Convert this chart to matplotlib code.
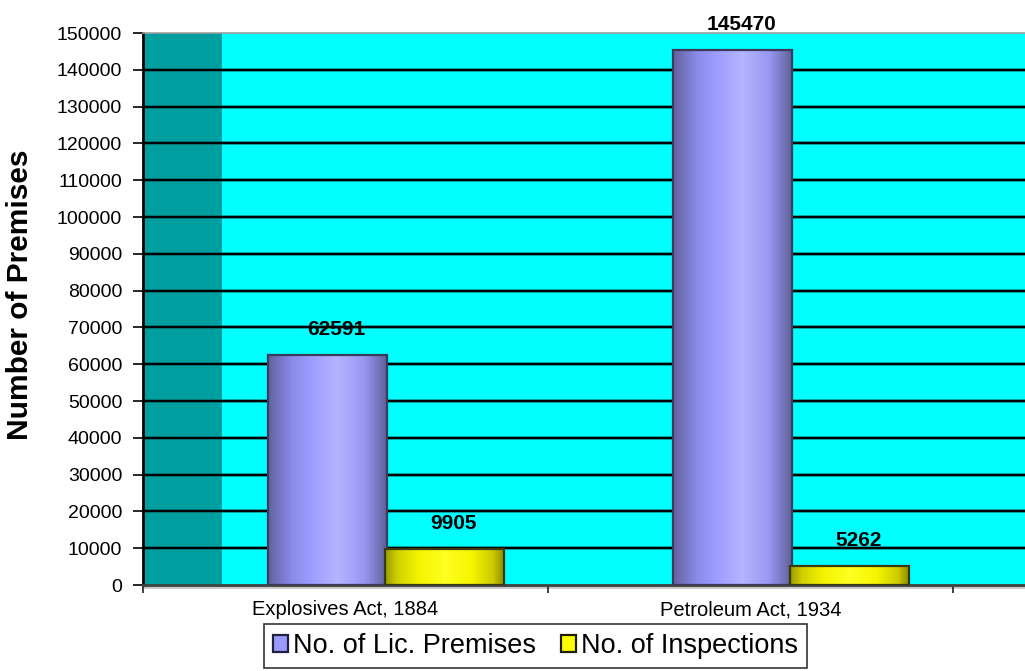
import numpy as np
import matplotlib
matplotlib.use("Agg")
import matplotlib.pyplot as plt
from matplotlib.colors import LinearSegmentedColormap
from matplotlib.patches import Patch, Rectangle

plt.rcParams['font.family'] = ['Liberation Sans', 'DejaVu Sans']

categories = ["Explosives Act, 1884", "Petroleum Act, 1934"]
series_names = ["No. of Lic. Premises", "No. of Inspections"]
lic_premises = [62591, 145470]
inspections = [9905, 5262]
y_ticks = list(range(0, 150001, 10000))

fig = plt.figure(figsize=(10.25, 6.71), dpi=100)
ax = fig.add_axes([143 / 1025, 1 - 585 / 671, 1 - 143 / 1025, 552 / 671])

xmin, xmax = -0.5, (1025 - 143) / 405 - 0.5
ymin, ymax = 0, 150000
ax.set_xlim(xmin, xmax)
ax.set_ylim(ymin, ymax)

# walls: cyan back wall with a darker side wall on the left
ax.set_facecolor("#00ffff")
ax.add_patch(Rectangle((xmin, 0), 0.195, ymax, facecolor="#009f9f",
                       edgecolor="none", zorder=0.5))

# gridlines with a faint shadow
for t in y_ticks[1:-1]:
    ax.axhline(t, color="#0a5050", lw=2.8, alpha=0.5, zorder=1)
    ax.axhline(t, color="black", lw=1.5, zorder=1.1)

blue_cmap = LinearSegmentedColormap.from_list(
    "cyl_blue", [(0.0, "#62629e"), (0.2, "#8a8aea"), (0.35, "#9c9cff"),
                 (0.58, "#b4b4ff"), (0.8, "#9898f4"), (1.0, "#5e5e96")])
yellow_cmap = LinearSegmentedColormap.from_list(
    "cyl_yellow", [(0.0, "#9a9a00"), (0.1, "#d0d000"), (0.28, "#f4f400"),
                   (0.5, "#ffff22"), (0.72, "#f6f600"), (0.9, "#cccc00"),
                   (1.0, "#888800")])
grad = np.linspace(0, 1, 256).reshape(1, -1)

width = 0.295
offsets = [-0.045, 0.245]
series = [lic_premises, inspections]
cmaps = [blue_cmap, yellow_cmap]
edge_cols = ["#3a3a5a", "#3a3a10"]

for s, (vals, cm, off, ec) in enumerate(zip(series, cmaps, offsets, edge_cols)):
    x = np.arange(len(categories)) + off
    bars = ax.bar(x, vals, width=width, facecolor="none", edgecolor=ec,
                  linewidth=1.6, zorder=3 + s)
    for b, v in zip(bars, vals):
        x0 = b.get_x()
        ax.imshow(grad, cmap=cm, aspect="auto", interpolation="bilinear",
                  extent=(x0, x0 + width, 0, v), zorder=2.5 + s)
        ax.text(b.get_x() + width / 2 + 0.022, v + 6800, f"{v}",
                ha="center", va="center", fontsize=15, fontweight="bold",
                zorder=6)

ax.set_xlim(xmin, xmax)
ax.set_ylim(ymin, ymax)

# axes styling
ax.spines["right"].set_visible(False)
ax.spines["top"].set_color("#a0a0a0")
ax.spines["top"].set_linewidth(1.2)
ax.spines["left"].set_color("black")
ax.spines["left"].set_linewidth(2)
ax.spines["bottom"].set_color("#404040")
ax.spines["bottom"].set_linewidth(2)
ax.axhline(-600, color="#c8c8c8", lw=2, clip_on=False, zorder=0.2)

ax.set_yticks(y_ticks)
ax.set_yticklabels([str(t) for t in y_ticks], fontsize=14)
ax.tick_params(axis="y", length=7, width=1.2, color="black", pad=8)

ax.set_xticks([-0.5, 0.5, 1.5])
ax.set_xticklabels([])
ax.set_xticks([0, 1], minor=True)
ax.set_xticklabels(categories, minor=True, fontsize=14.5)
ax.tick_params(axis="x", which="major", length=6, width=1.2, color="#202020")
ax.tick_params(axis="x", which="minor", length=0, pad=11)

ax.set_ylabel("Number of Premises", fontsize=21.5, fontweight="bold")
ax.yaxis.set_label_coords((34 - 143) / 882, 0.525)

handles = [Patch(facecolor="#9999ff", edgecolor="#202040", linewidth=1.6),
           Patch(facecolor="#ffff00", edgecolor="#202000", linewidth=1.6)]
leg = fig.legend(handles, series_names, loc="center",
                 bbox_to_anchor=(535.5 / 1025, 1 - 646 / 671), ncol=2,
                 fontsize=19.5, frameon=True, fancybox=False,
                 handlelength=0.55, handleheight=0.55, handletextpad=0.2,
                 columnspacing=0.9, borderpad=0.32, borderaxespad=0)
leg.get_frame().set_edgecolor("black")
leg.get_frame().set_linewidth(1.2)

fig.savefig("out.png", dpi=100)
